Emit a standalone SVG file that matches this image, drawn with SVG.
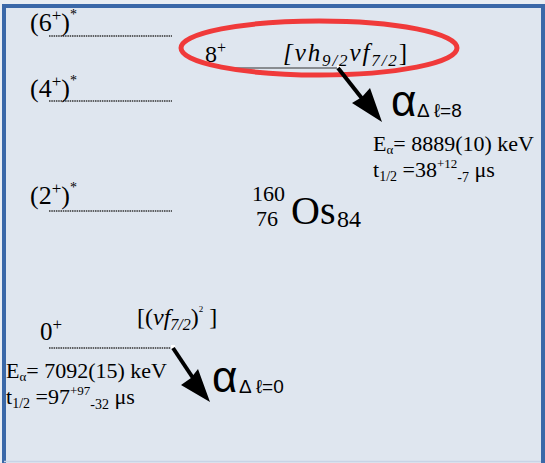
<svg xmlns="http://www.w3.org/2000/svg" width="545" height="463" viewBox="0 0 545 463">
<defs>
<style>
.s{font-family:"Liberation Serif","Times New Roman",serif;fill:#000}
.a{font-family:"Liberation Sans",Arial,sans-serif;fill:#000}
.lvl{stroke:#333;stroke-width:1.3;stroke-dasharray:1.5 0.8;fill:none}
.arr{stroke:#000;stroke-width:4;fill:none}
.hd{fill:#000}
</style>
</defs>
<rect x="0" y="0" width="545" height="463" fill="#e8edf3"/>
<rect x="4" y="6" width="539" height="470" fill="#dfe6ef" stroke="#3a68a8" stroke-width="4"/>
<line x1="4" y1="461.5" x2="541" y2="461.5" stroke="#c8d4e6" stroke-width="1.5"/>

<g id="level-6">
<line class="lvl" x1="49" y1="36" x2="172" y2="36"/>
<text class="s" x="30" y="31" font-size="26">(6<tspan font-size="17" dy="-10">+</tspan><tspan dy="10">)</tspan><tspan font-size="14" dy="-12">*</tspan></text>
</g>
<g id="level-4">
<line class="lvl" x1="49" y1="101" x2="172" y2="101"/>
<text class="s" x="30" y="97" font-size="26">(4<tspan font-size="17" dy="-10">+</tspan><tspan dy="10">)</tspan><tspan font-size="14" dy="-12">*</tspan></text>
</g>
<g id="level-2">
<line class="lvl" x1="49" y1="211" x2="172" y2="211"/>
<text class="s" x="30" y="204" font-size="26">(2<tspan font-size="17" dy="-10">+</tspan><tspan dy="10">)</tspan><tspan font-size="14" dy="-12">*</tspan></text>
</g>
<g id="level-8">
<line x1="228" y1="68" x2="338" y2="68" stroke="#333" stroke-width="1"/>
<rect x="337" y="65" width="4" height="4" fill="#fff"/>
<text class="s" x="205" y="62" font-size="24">8<tspan font-size="16" dy="-9">+</tspan></text>
<text class="s" x="283" y="61" font-size="25" font-style="italic" textLength="124">[νh<tspan font-size="17" dy="5">9/2</tspan><tspan dy="-5">νf</tspan><tspan font-size="17" dy="5">7/2</tspan><tspan dy="-5" font-style="normal">]</tspan></text>
<ellipse cx="319" cy="48" rx="138" ry="27" fill="none" stroke="#f03a3a" stroke-width="5"/>
</g>
<g id="level-0">
<line class="lvl" x1="49" y1="348" x2="172" y2="348"/>
<rect x="171" y="345" width="4" height="4" fill="#fff"/>
<text class="s" x="40" y="340" font-size="25">0<tspan font-size="17" dy="-10">+</tspan></text>
<text class="s" x="137" y="325" font-size="24">[(<tspan font-style="italic">νf</tspan><tspan font-size="16" dy="5" font-style="italic">7/2</tspan><tspan dy="-5">)</tspan><tspan font-size="9" dy="-13">2</tspan><tspan dy="13"> ]</tspan></text>
</g>
<g id="nucleus">
<text class="s" x="252" y="201" font-size="22">160</text>
<text class="s" x="256" y="226" font-size="22">76</text>
<text class="s" x="291" y="224" font-size="40">Os</text>
<text class="s" x="337" y="227" font-size="24">84</text>
</g>
<g id="decay-8">
<text class="a" x="391" y="116" font-size="44">α</text>
<text class="a" x="417" y="117" font-size="19">Δ ℓ=8</text>
<text class="s" x="373" y="151" font-size="22">E<tspan font-size="13" dy="3">α</tspan><tspan dy="-3">= 8889(10) keV</tspan></text>
<text class="s" x="373" y="177" font-size="22">t<tspan font-size="14" dy="4">1/2</tspan><tspan dy="-4"> =38</tspan><tspan font-size="13" dy="-9">+12</tspan><tspan font-size="14" dy="14">-7</tspan><tspan dy="-5"> μs</tspan></text>
</g>
<g id="decay-0">
<text class="a" x="212" y="392" font-size="44">α</text>
<text class="a" x="239" y="393" font-size="19">Δ ℓ=0</text>
<text class="s" x="6" y="378" font-size="22">E<tspan font-size="13" dy="3">α</tspan><tspan dy="-3">= 7092(15) keV</tspan></text>
<text class="s" x="6" y="404" font-size="22">t<tspan font-size="14" dy="4">1/2</tspan><tspan dy="-4"> =97</tspan><tspan font-size="13" dy="-9">+97</tspan><tspan font-size="14" dy="14">-32</tspan><tspan dy="-5"> μs</tspan></text>
</g>
<g id="connectors">
<line class="arr" x1="338" y1="68" x2="364" y2="101"/>
<path class="hd" d="M382,122 L352,103 L362,97 L370,88 z"/>
<line class="arr" x1="173" y1="348" x2="195" y2="381"/>
<path class="hd" d="M210,402 L181,385 L191,378 L198,369 z"/>
</g>
</svg>
